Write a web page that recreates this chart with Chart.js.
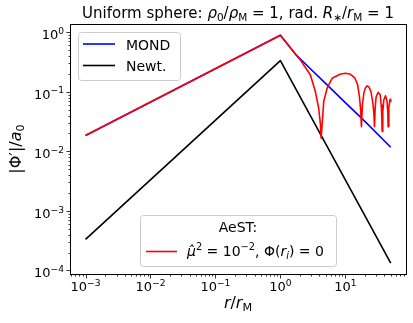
<!DOCTYPE html>
<html>
<head>
<meta charset="utf-8">
<script src="https://cdn.jsdelivr.net/npm/chart.js@4"></script>
<style>
  html, body { margin: 0; padding: 0; background: #fff; }
  canvas { display: block; }
</style>
</head>
<body>
<canvas id="c" width="413" height="323"></canvas>
<script>
// radius r/rM and |Phi'|/a0
const newtR = [0.001, 1, 50];
const newtVal = [3.33e-4, 0.333, 1.33e-4];

const mondR = [0.001, 1, 1.7, 3, 5, 10, 20, 50];
const mondVal = [0.0184, 0.89, 0.43, 0.235, 0.137, 0.066, 0.0318, 0.0117];

const aestR = [0.001, 1, 1.7, 2.0, 2.9, 3.46, 3.89, 4.14, 4.24,
    4.39, 4.65, 5.24, 6.26, 8.3, 10, 12, 14, 15.5, 16.5, 17.2, 17.7,
    18.3, 19.3, 20.4, 21.7, 23.1, 24.8, 26.4, 27.5, 28.1,
    28.8, 29.8, 32, 34.4, 35.7, 36.4, 36.9,
    37.7, 39.1, 41.5, 43.8, 45.1, 45.6,
    46.7, 48.6, 49.3, 50];
const aestVal = [0.0184, 0.89, 0.43, 0.35, 0.192, 0.10, 0.053, 0.028, 0.0166,
    0.028, 0.069, 0.115, 0.169, 0.197, 0.205, 0.197, 0.171, 0.13, 0.082, 0.05, 0.026,
    0.06, 0.096, 0.116, 0.126, 0.121, 0.1, 0.068, 0.044, 0.026,
    0.054, 0.082, 0.098, 0.089, 0.06, 0.039, 0.0215,
    0.046, 0.073, 0.086, 0.07, 0.045, 0.026,
    0.054, 0.073, 0.075, 0.0686];

const xTickExp = [-3, -2, -1, 0, 1];
const yTickExp = [-4, -3, -2, -1, 0];

const FONT = '"DejaVu Sans", sans-serif';
const SUP = { '-': '\u2212' };

function pts(xs, ys) {
    return xs.map((x, i) => ({ x: x, y: ys[i] }));
}

// draw a run of segments: [text, kind] with kind '', 'i', 'sub', 'isub', 'sup'
function richWidth(ctx, segs, size) {
    let w = 0;
    segs.forEach(s => {
        ctx.font = segFont(s[1], size);
        w += ctx.measureText(s[0]).width;
    });
    return w;
}
function segFont(kind, size) {
    let small = kind == 'sub' || kind == 'isub' || kind == 'sup';
    let it = kind == 'i' || kind == 'isub';
    return (it ? 'italic ' : '') + (small ? size * 0.7 : size) + 'px ' + FONT;
}
function drawRich(ctx, segs, x, y, size, align) {
    let w = richWidth(ctx, segs, size);
    let cx = align == 'center' ? x - w / 2 : (align == 'right' ? x - w : x);
    ctx.textAlign = 'left';
    ctx.textBaseline = 'alphabetic';
    segs.forEach(s => {
        ctx.font = segFont(s[1], size);
        let dy = 0;
        if (s[1] == 'sub' || s[1] == 'isub') dy = size * 0.2;
        if (s[1] == 'sup') dy = -size * 0.41;
        ctx.fillText(s[0], cx, y + dy);
        cx += ctx.measureText(s[0]).width;
    });
}
function expText(e) {
    return String(e).replace('-', SUP['-']);
}

function legendBox(ctx, x, y, w, h) {
    ctx.save();
    ctx.beginPath();
    ctx.roundRect(x + 0.5, y + 0.5, w, h, 3);
    ctx.fillStyle = 'rgba(255,255,255,0.8)';
    ctx.fill();
    ctx.strokeStyle = '#cccccc';
    ctx.lineWidth = 1;
    ctx.stroke();
    ctx.restore();
}
function legendLine(ctx, x1, x2, y, color) {
    ctx.beginPath();
    ctx.moveTo(x1, y);
    ctx.lineTo(x2, y);
    ctx.strokeStyle = color;
    ctx.lineWidth = 1.6;
    ctx.stroke();
}

const decor = {
    id: 'decor',
    afterDraw(chart) {
        const ctx = chart.ctx;
        const a = chart.chartArea;
        const xs = chart.scales.x, ys = chart.scales.y;
        ctx.save();
        ctx.fillStyle = '#000';
        ctx.strokeStyle = '#000';

        // frame
        ctx.lineWidth = 1;
        ctx.strokeRect(Math.round(a.left) + 0.5, Math.round(a.top) + 0.5,
            Math.round(a.right - a.left), Math.round(a.bottom - a.top));

        // ticks, major and minor
        let bx = Math.round(a.bottom) + 0.5, lx = Math.round(a.left) + 0.5;
        ctx.lineWidth = 0.8;
        for (let e = -4; e <= 1; e++) {
            for (let m = 1; m <= 9; m++) {
                let v = m * Math.pow(10, e);
                let len = m == 1 ? 4 : 2;
                let px = xs.getPixelForValue(v);
                if (px >= a.left && px <= a.right) {
                    ctx.beginPath();
                    ctx.moveTo(Math.round(px) + 0.5, bx);
                    ctx.lineTo(Math.round(px) + 0.5, bx + len);
                    ctx.stroke();
                }
                let py = ys.getPixelForValue(v);
                if (py >= a.top && py <= a.bottom) {
                    ctx.beginPath();
                    ctx.moveTo(lx, Math.round(py) + 0.5);
                    ctx.lineTo(lx - len, Math.round(py) + 0.5);
                    ctx.stroke();
                }
            }
        }

        // tick labels
        xTickExp.forEach(e => {
            let px = xs.getPixelForValue(Math.pow(10, e));
            drawRich(ctx, [['10', ''], [expText(e), 'sup']], px, a.bottom + 17, 13, 'center');
        });
        yTickExp.forEach(e => {
            let py = ys.getPixelForValue(Math.pow(10, e));
            drawRich(ctx, [['10', ''], [expText(e), 'sup']], a.left - 6, py + 7, 13, 'right');
        });

        // title
        drawRich(ctx, [['Uniform sphere: ', ''], ['\u03c1', 'i'], ['0', 'sub'], ['/', ''],
            ['\u03c1', 'i'], ['M', 'sub'], [' = 1, rad. ', ''], ['R', 'i'], ['\u2217', 'sub'],
            ['/', ''], ['r', 'i'], ['M', 'sub'], [' = 1', '']],
            (a.left + a.right) / 2, 18, 15, 'center');

        // axis titles
        drawRich(ctx, [['r', 'i'], ['/', ''], ['r', 'i'], ['M', 'sub']],
            (a.left + a.right) / 2, 308, 16, 'center');
        ctx.save();
        ctx.translate(21, (a.top + a.bottom) / 2);
        ctx.rotate(-Math.PI / 2);
        drawRich(ctx, [['|\u03a6\u2032|/', ''], ['a', 'i'], ['0', 'sub']], 0, 0, 16, 'center');
        ctx.restore();

        // legend: MOND / Newt.
        legendBox(ctx, 78, 32, 102, 48);
        legendLine(ctx, 83, 115, 44, '#0000ff');
        legendLine(ctx, 83, 115, 65.5, '#000000');
        ctx.fillStyle = '#000';
        drawRich(ctx, [['MOND', '']], 126, 49.5, 14, 'left');
        drawRich(ctx, [['Newt.', '']], 126, 70.5, 14, 'left');

        // legend: AeST
        legendBox(ctx, 140, 215, 196, 51);
        drawRich(ctx, [['AeST:', '']], 238, 232, 14, 'center');
        legendLine(ctx, 146, 177, 251.5, '#ff0000');
        ctx.fillStyle = '#000';
        drawRich(ctx, [['\u03bc\u0302', 'i'], ['2', 'sup'], [' = 10', ''], ['\u22122', 'sup'],
            [', \u03a6(', ''], ['r', 'i'], ['i', 'isub'], [') = 0', '']],
            187, 256, 14, 'left');

        ctx.restore();
    }
};

new Chart(document.getElementById('c'), {
    type: 'line',
    data: {
        datasets: [
            { label: 'MOND', data: pts(mondR, mondVal), borderColor: '#0000ff', order: 3 },
            { label: 'Newt.', data: pts(newtR, newtVal), borderColor: '#000000', order: 2 },
            { label: 'AeST', data: pts(aestR, aestVal), borderColor: '#ff0000', order: 1 }
        ]
    },
    options: {
        responsive: false,
        animation: false,
        devicePixelRatio: 1,
        layout: { padding: { left: 70, top: 24, right: 7, bottom: 49 } },
        elements: {
            point: { radius: 0 },
            line: { borderWidth: 1.6, tension: 0, borderJoinStyle: 'round', fill: false }
        },
        scales: {
            x: { type: 'logarithmic', display: false, min: Math.pow(10, -3.239), max: Math.pow(10, 1.934) },
            y: { type: 'logarithmic', display: false, min: Math.pow(10, -4.06), max: Math.pow(10, 0.139) }
        },
        plugins: {
            legend: { display: false },
            tooltip: { enabled: false }
        }
    },
    plugins: [decor]
});
</script>
</body>
</html>
